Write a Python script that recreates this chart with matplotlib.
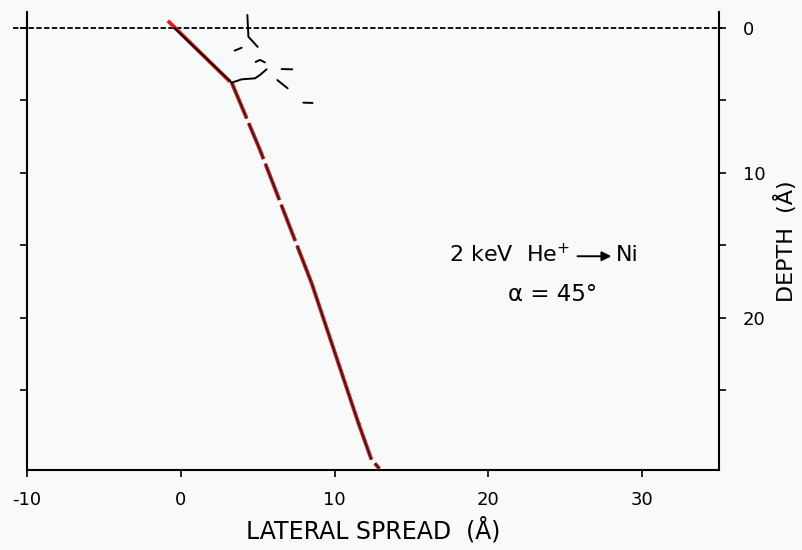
import matplotlib.pyplot as plt

plt.rcParams.update({
    "font.family": "DejaVu Sans",
    "font.size": 13,
})

BG = "#f8f9f9"
RED = "#e02020"

# main trajectory (lateral spread, depth) in Angstrom
traj_x = [-0.41, 3.31, 5.15, 8.51, 11.55, 12.40, 12.92]
traj_d = [0.0, 3.77, 8.41, 17.61, 27.26, 29.79, 30.41]

# red overlay of the entry segment, slightly off the black line
red_top_x = [-0.84, 3.2]
red_top_d = [-0.5, 3.7]

# short recoil tracks near the surface
tracks = [
    ([4.33, 4.40, 5.00], [-0.9, 0.6, 1.3]),
    ([3.50, 3.96], [1.56, 1.36]),
    ([3.31, 3.96, 4.83, 5.15, 5.58], [3.77, 3.54, 3.47, 3.24, 2.85]),
    ([4.87, 5.15, 5.47], [2.34, 2.20, 2.37]),
    ([6.56, 7.25], [2.83, 2.85]),
    ([6.28, 6.95], [3.59, 4.16]),
    ([7.97, 8.57], [5.15, 5.17]),
]

x_ticks = [-10, 0, 10, 20, 30]
depth_major = [0, 10, 20]
depth_minor = [5, 15, 25]

fig = plt.figure(figsize=(8.03, 5.5), dpi=100, facecolor=BG)
ax = fig.add_axes([0.0336, 0.1455, 0.8618, 0.8325])
ax.set_facecolor(BG)

ax.set_xlim(-10, 35)
ax.set_ylim(30.5, -1.1)

# surface line
ax.plot([-10.9, 35.2], [0, 0], color="black", lw=1.3, linestyle=(0, (3.0, 1.3)),
        clip_on=False, zorder=2)


def trace(i0, i1, broken):
    xs, ds = traj_x[i0:i1 + 1], traj_d[i0:i1 + 1]
    if broken:
        ax.plot(xs, ds, color=RED, lw=2.8, linestyle=(0, (10, 1.3)), zorder=3)
        ax.plot(xs, ds, color="#202020", lw=1.2, linestyle=(0, (23.3, 3.0)), zorder=4)
    else:
        ax.plot(xs, ds, color=RED, lw=2.8, zorder=3)
        ax.plot(xs, ds, color="#202020", lw=1.2, zorder=4)


ax.plot(red_top_x, red_top_d, color=RED, lw=2.8, solid_capstyle="butt", zorder=3)
ax.plot(traj_x[:2], traj_d[:2], color="black", lw=1.3, zorder=4)
trace(1, 3, True)
trace(3, 4, False)
trace(4, 6, True)

for tx, td in tracks:
    ax.plot(tx, td, color="black", lw=1.4, zorder=4, solid_capstyle="round")

# label
ax.text(25.3, 15.66, "2 keV  He$^{+}$", ha="right", va="center", fontsize=16)
ax.annotate("", xy=(28.0, 15.75), xytext=(25.8, 15.75),
            arrowprops=dict(arrowstyle="-|>", color="black", lw=1.4,
                            mutation_scale=14, shrinkA=0, shrinkB=0))
ax.text(28.3, 15.66, "Ni", ha="left", va="center", fontsize=16)
ax.text(24.2, 18.4, "α = 45°", ha="center", va="center", fontsize=16.5)

# axes styling: no top frame
ax.spines["top"].set_visible(False)
for side in ["left", "right", "bottom"]:
    ax.spines[side].set_linewidth(1.5)

ax.set_xticks(x_ticks)
ax.set_xticklabels([str(t) for t in x_ticks])
ax.tick_params(axis="x", direction="out", length=5, width=1.2, pad=10, labelsize=13)

ax.yaxis.tick_right()
ax.set_yticks(depth_major)
ax.set_yticks(depth_minor, minor=True)
ax.tick_params(axis="y", which="both", direction="out", length=5, width=1.2,
               left=True, right=True, labelleft=False, labelright=True,
               pad=12, labelsize=13)

ax.set_xlabel("LATERAL SPREAD  (Å)", fontsize=17, labelpad=6)
ax.yaxis.set_label_position("right")
ax.set_ylabel("DEPTH  (Å)", fontsize=16, labelpad=6)

fig.savefig("out.png", dpi=100, facecolor=BG)
